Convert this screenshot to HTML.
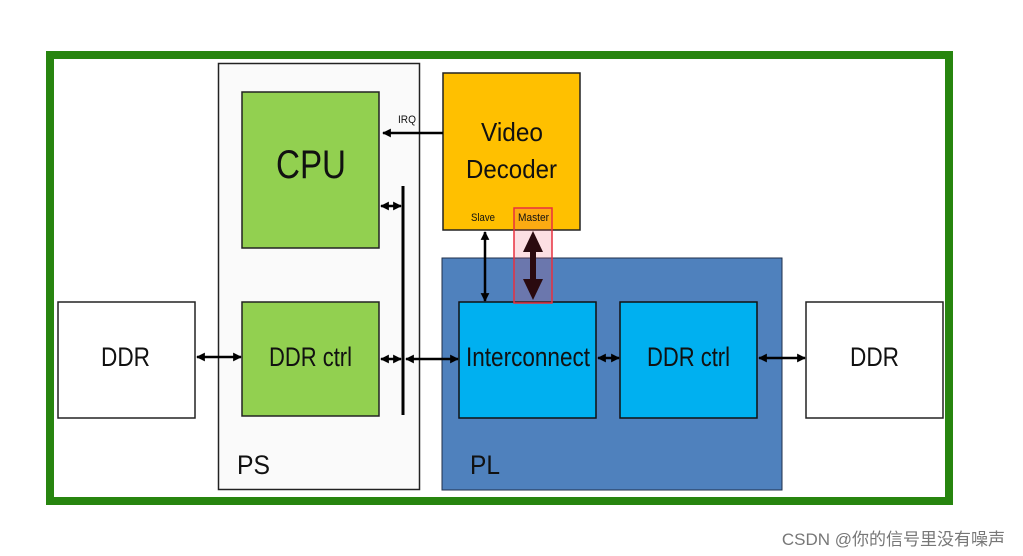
<!DOCTYPE html>
<html><head><meta charset="utf-8"><style>
html,body{margin:0;padding:0;background:#fff;}
svg{display:block;}
text{font-family:"Liberation Sans",sans-serif;fill:#111;}
</style></head><body>
<svg width="1023" height="556" viewBox="0 0 1023 556" xmlns="http://www.w3.org/2000/svg">
<defs>
<marker id="a" viewBox="0 0 10 10" refX="9" refY="5" markerWidth="3.5" markerHeight="3.5" orient="auto-start-reverse"><path d="M0,0L10,5L0,10z" fill="#000"/></marker>
</defs>
<rect x="0" y="0" width="1023" height="556" fill="#fff"/>
<rect x="50" y="55" width="899" height="446" fill="#fff" stroke="#27850f" stroke-width="8"/>
<!-- PS -->
<rect x="218.5" y="63.5" width="201" height="426" fill="#fafafa" stroke="#222" stroke-width="1.5"/>
<rect x="242" y="92" width="137" height="156" fill="#92d050" stroke="#222" stroke-width="1.5"/>
<text x="276" y="178" font-size="40" textLength="70" lengthAdjust="spacingAndGlyphs">CPU</text>
<rect x="242" y="302" width="137" height="114" fill="#92d050" stroke="#222" stroke-width="1.5"/>
<text x="269" y="366" font-size="27" textLength="83" lengthAdjust="spacingAndGlyphs">DDR ctrl</text>
<text x="237" y="474" font-size="27" textLength="33" lengthAdjust="spacingAndGlyphs">PS</text>
<line x1="403" y1="186" x2="403" y2="415" stroke="#000" stroke-width="3"/>
<!-- DDR left -->
<rect x="58" y="302" width="137" height="116" fill="#fff" stroke="#222" stroke-width="1.5"/>
<text x="101" y="366" font-size="27" textLength="49" lengthAdjust="spacingAndGlyphs">DDR</text>
<!-- PL -->
<rect x="442" y="258" width="340" height="232" fill="#4f81bd" stroke="#1f2f4a" stroke-width="1"/>
<rect x="459" y="302" width="137" height="116" fill="#00b0f0" stroke="#111" stroke-width="1.5"/>
<text x="466" y="366" font-size="27" textLength="124" lengthAdjust="spacingAndGlyphs">Interconnect</text>
<rect x="620" y="302" width="137" height="116" fill="#00b0f0" stroke="#111" stroke-width="1.5"/>
<text x="647" y="366" font-size="27" textLength="83" lengthAdjust="spacingAndGlyphs">DDR ctrl</text>
<text x="470" y="474" font-size="27" textLength="30" lengthAdjust="spacingAndGlyphs">PL</text>
<!-- DDR right -->
<rect x="806" y="302" width="137" height="116" fill="#fff" stroke="#222" stroke-width="1.5"/>
<text x="850" y="366" font-size="27" textLength="49" lengthAdjust="spacingAndGlyphs">DDR</text>
<!-- Video decoder -->
<rect x="443" y="73" width="137" height="157" fill="#ffc000" stroke="#222" stroke-width="1.5"/>
<text x="481" y="141" font-size="26" textLength="62" lengthAdjust="spacingAndGlyphs">Video</text>
<text x="466" y="178" font-size="26" textLength="91" lengthAdjust="spacingAndGlyphs">Decoder</text>
<text x="471" y="221" font-size="11" textLength="24" lengthAdjust="spacingAndGlyphs">Slave</text>
<rect x="514" y="208" width="38" height="95" fill="rgba(240,80,100,0.18)" stroke="#e8303f" stroke-width="1.5"/>
<text x="518" y="221" font-size="11" textLength="31" lengthAdjust="spacingAndGlyphs">Master</text>
<text x="398" y="123" font-size="11" fill="#222" textLength="18" lengthAdjust="spacingAndGlyphs">IRQ</text>
<!-- arrows -->
<g stroke="#000" stroke-width="2.5" fill="none">
<line x1="443" y1="133" x2="383" y2="133" marker-end="url(#a)"/>
<line x1="381" y1="206" x2="401" y2="206" marker-start="url(#a)" marker-end="url(#a)"/>
<line x1="197" y1="357" x2="241" y2="357" marker-start="url(#a)" marker-end="url(#a)"/>
<line x1="381" y1="359" x2="401" y2="359" marker-start="url(#a)" marker-end="url(#a)"/>
<line x1="406" y1="359" x2="458" y2="359" marker-start="url(#a)" marker-end="url(#a)"/>
<line x1="598" y1="358" x2="619" y2="358" marker-start="url(#a)" marker-end="url(#a)"/>
<line x1="759" y1="358" x2="805" y2="358" marker-start="url(#a)" marker-end="url(#a)"/>
<line x1="485" y1="232" x2="485" y2="301" marker-start="url(#a)" marker-end="url(#a)"/>
</g>
<g fill="#2a0a0f">
<rect x="530" y="248" width="6" height="36"/>
<path d="M533,231 L543,252 L523,252 Z"/>
<path d="M533,300 L543,279 L523,279 Z"/>
</g>
<text x="1005" y="545" font-size="17" text-anchor="end" style="font-family:'Liberation Sans','Noto Sans CJK SC',sans-serif;fill:#777">CSDN @你的信号里没有噪声</text>
</svg>
</body></html>
